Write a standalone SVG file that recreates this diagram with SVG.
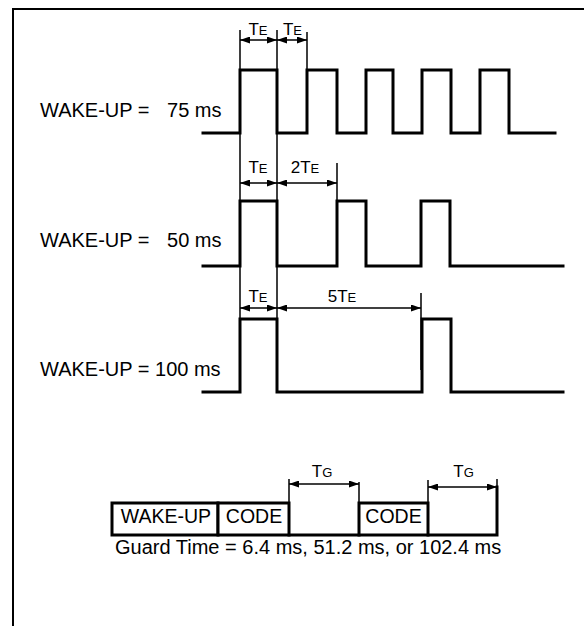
<svg xmlns="http://www.w3.org/2000/svg" width="585" height="626" viewBox="0 0 585 626">
<style>
text{font-family:"Liberation Sans",Arial,sans-serif;fill:#000}
.lbl{font-size:20px}
.box-t{font-size:19.5px}
.big{font-size:17px}
.sub{font-size:13px}
.wave{fill:none;stroke:#000;stroke-width:3;stroke-linejoin:miter;stroke-linecap:square}
.thin{fill:none;stroke:#000;stroke-width:1.5}
.dim{fill:none;stroke:#000;stroke-width:1.5;marker-start:url(#ah);marker-end:url(#ah)}
.box{fill:#fff;stroke:#000;stroke-width:3}
</style>
<defs>
<marker id="ah" markerUnits="userSpaceOnUse" markerWidth="10" markerHeight="7" refX="10" refY="3.5" orient="auto-start-reverse">
<path d="M0,0 L10,3.5 L0,7 z" fill="#000"/>
</marker>
</defs>
<rect width="585" height="626" fill="#fff"/>
<path d="M13,626 V9 H584" fill="none" stroke="#000" stroke-width="2"/>

<g id="connectors">
<path class="thin" d="M240,30 V392 M277,30 V392 M307,32 V70 M337,163 V201 M421,293 V370 M289,479 V503 M359,482 V503 M428,480 V503 M497,479 V535"/>
<line class="dim" x1="240" y1="40" x2="277" y2="40"/>
<line class="dim" x1="277" y1="40" x2="307" y2="40"/>
<line class="dim" x1="240" y1="183" x2="277" y2="183"/>
<line class="dim" x1="277" y1="183" x2="337" y2="183"/>
<line class="dim" x1="240" y1="308" x2="277" y2="308"/>
<line class="dim" x1="277" y1="308" x2="421" y2="308"/>
<line class="dim" x1="289" y1="484" x2="359" y2="484"/>
<line class="dim" x1="428" y1="487" x2="497" y2="487"/>
</g>

<g id="wave75">
<text class="lbl" y="117"><tspan x="40">WAKE-UP =</tspan><tspan x="221.5" text-anchor="end">75 ms</tspan></text>
<path class="wave" d="M203,133 H240 V70 H277 V133 H307 V70 H337 V133 H366 V70 H393 V133 H422 V70 H451 V133 H480 V70 H509 V133 H555"/>
<text x="258" y="35" text-anchor="middle"><tspan class="big">T</tspan><tspan class="sub">E</tspan></text>
<text x="292.5" y="35" text-anchor="middle"><tspan class="big">T</tspan><tspan class="sub">E</tspan></text>
</g>

<g id="wave50">
<text class="lbl" y="247"><tspan x="40">WAKE-UP =</tspan><tspan x="221.5" text-anchor="end">50 ms</tspan></text>
<path class="wave" d="M203,266 H240 V201 H277 V266 H337 V201 H366 V266 H421 V201 H450 V266 H563"/>
<text x="258" y="173" text-anchor="middle"><tspan class="big">T</tspan><tspan class="sub">E</tspan></text>
<text x="305" y="173" text-anchor="middle"><tspan class="big">2T</tspan><tspan class="sub">E</tspan></text>
</g>

<g id="wave100">
<text class="lbl" x="40" y="376">WAKE-UP = 100 ms</text>
<path class="wave" d="M203,392 H240 V319 H277 V392 H422 V319 H451 V392 H563"/>
<text x="258" y="302" text-anchor="middle"><tspan class="big">T</tspan><tspan class="sub">E</tspan></text>
<text x="342" y="302" text-anchor="middle"><tspan class="big">5T</tspan><tspan class="sub">E</tspan></text>
</g>

<g id="frame">
<path class="wave" d="M289,535 H359 M428,535 H497 V487"/>
<rect class="box" x="112" y="503" width="106" height="32"/>
<text class="box-t" x="166" y="523" text-anchor="middle">WAKE-UP</text>
<rect class="box" x="218" y="503" width="71" height="32"/>
<text class="box-t" x="254" y="523" text-anchor="middle">CODE</text>
<rect class="box" x="359" y="503" width="69" height="32"/>
<text class="box-t" x="393.5" y="523" text-anchor="middle">CODE</text>
<text x="322" y="477" text-anchor="middle"><tspan class="big">T</tspan><tspan class="sub">G</tspan></text>
<text x="463.5" y="477" text-anchor="middle"><tspan class="big">T</tspan><tspan class="sub">G</tspan></text>
<text class="lbl" x="115" y="554">Guard Time = 6.4 ms, 51.2 ms, or 102.4 ms</text>
</g>
</svg>
